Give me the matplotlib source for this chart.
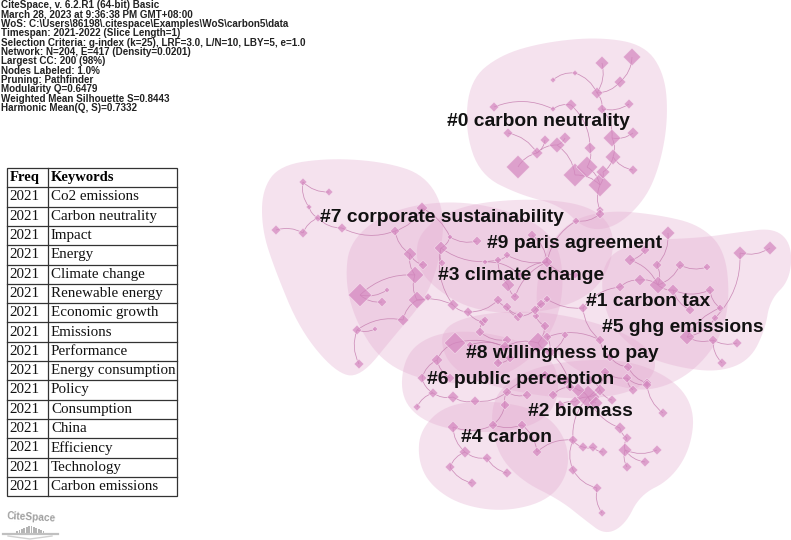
import numpy as np
import matplotlib.pyplot as plt
from matplotlib.path import Path
from matplotlib.patches import PathPatch, Rectangle

''' Chart data '''

header_lines = [
    'CiteSpace, v. 6.2.R1 (64-bit) Basic',
    'March 28, 2023 at 9:36:38 PM GMT+08:00',
    'WoS: C:\\Users\\86198\\.citespace\\Examples\\WoS\\carbon5\\data',
    'Timespan: 2021-2022 (Slice Length=1)',
    'Selection Criteria: g-index (k=25), LRF=3.0, L/N=10, LBY=5, e=1.0',
    'Network: N=204, E=417 (Density=0.0201)',
    'Largest CC: 200 (98%)',
    'Nodes Labeled: 1.0%',
    'Pruning: Pathfinder',
    'Modularity Q=0.6479',
    'Weighted Mean Silhouette S=0.8443',
    'Harmonic Mean(Q, S)=0.7332',
]

table_header = ['Freq', 'Keywords']
table_years = ['2021'] * 16
table_keywords = [
    'Co2 emissions', 'Carbon neutrality', 'Impact', 'Energy', 'Climate change',
    'Renewable energy', 'Economic growth', 'Emissions', 'Performance',
    'Energy consumption', 'Policy', 'Consumption', 'China', 'Efficiency',
    'Technology', 'Carbon emissions',
]

cluster_labels = [
    '#0 carbon neutrality', '#1 carbon tax', '#2 biomass', '#3 climate change',
    '#4 carbon', '#5 ghg emissions', '#6 public perception',
    '#7 corporate sustainability', '#8 willingness to pay', '#9 paris agreement',
]
label_x = [447, 586, 528, 438, 461, 602, 427, 320, 466, 487]
label_y = [121, 301, 412, 275, 437, 328, 380, 218, 353, 244]

# nodes per cluster: (x, y, size, parent index within cluster)
c0_nodes = [
    (600, 185, 12, -1), (575, 175, 12, 0), (587, 167, 11, 0), (603, 172, 7, 0),
    (613, 157, 8, 3), (633, 170, 5, 4), (590, 148, 6, 2), (612, 138, 9, 4),
    (633, 133, 6, 7), (602, 109, 5, 7), (597, 93, 6, 9), (620, 82, 6, 10),
    (632, 57, 9, 11), (602, 63, 7, 10), (575, 73, 3, 10), (553, 80, 3, 14),
    (571, 105, 6, 6), (553, 109, 3, 16), (494, 107, 5, 17), (557, 145, 8, 1),
    (537, 153, 6, 19), (518, 167, 12, 20), (508, 133, 5, 20), (629, 104, 5, 9),
    (600, 210, 4, 0), (565, 138, 6, 19), (545, 140, 5, 20),
]
c1_nodes = [
    (658, 285, 9, -1), (640, 280, 6, 0), (630, 260, 6, 0), (657, 265, 5, 0),
    (680, 265, 5, 0), (673, 290, 6, 0), (668, 233, 7, 3), (620, 287, 5, 1),
    (583, 308, 5, 7), (707, 267, 4, 4), (710, 290, 5, 5), (720, 308, 4, 10),
    (600, 340, 5, 8), (547, 337, 5, 12), (610, 357, 5, 12), (628, 367, 5, 14),
    (647, 383, 5, 15), (645, 250, 5, 2), (690, 310, 5, 5),
]
c2_nodes = [
    (588, 397, 12, -1), (578, 390, 7, 0), (596, 403, 7, 0), (570, 387, 5, 1),
    (553, 395, 5, 3), (605, 372, 5, 0), (627, 378, 5, 5), (633, 390, 5, 6),
    (647, 385, 5, 6), (663, 413, 5, 8), (620, 428, 6, 0), (627, 438, 5, 10),
    (625, 450, 7, 11), (645, 462, 5, 12), (657, 450, 5, 12), (627, 467, 5, 12),
    (603, 452, 5, 17), (593, 447, 5, 18), (583, 447, 5, 19), (573, 440, 5, 0),
    (573, 470, 5, 19), (597, 488, 5, 20), (602, 513, 4, 21), (537, 452, 5, 19),
    (522, 425, 5, 23), (565, 380, 6, 3), (575, 402, 6, 0), (600, 390, 6, 0),
    (590, 380, 5, 27), (560, 405, 5, 26), (612, 400, 5, 27), (545, 375, 5, 25),
]
c3_nodes = [
    (441, 248, 7, -1), (450, 237, 3, 0), (477, 241, 5, 1), (498, 260, 4, 0),
    (507, 255, 4, 3), (453, 305, 6, 0), (468, 312, 5, 5), (498, 300, 5, 6),
    (507, 307, 5, 7), (518, 317, 5, 8), (483, 322, 5, 6), (480, 332, 5, 10),
    (507, 340, 5, 11), (541, 304, 5, 9), (536, 316, 4, 13), (545, 326, 5, 14),
    (442, 263, 4, 0), (508, 285, 7, 3), (520, 315, 4, 8), (535, 310, 5, 13),
    (547, 299, 4, 13), (485, 320, 4, 10),
]
c4_nodes = [
    (453, 427, 6, -1), (493, 425, 5, 0), (465, 452, 6, 0), (487, 458, 5, 2),
    (450, 467, 5, 2), (507, 473, 5, 3), (472, 483, 5, 4),
]
c5_nodes = [
    (687, 337, 8, -1), (713, 340, 5, 0), (737, 343, 5, 1), (722, 363, 5, 1),
    (715, 318, 4, 0), (740, 253, 7, 4), (770, 248, 7, 5),
]
c6_nodes = [
    (455, 343, 11, -1), (437, 360, 6, 0), (422, 378, 5, 1), (433, 393, 5, 2),
    (453, 397, 6, 3), (475, 401, 5, 4), (417, 407, 4, 3), (507, 392, 5, 5),
    (527, 395, 5, 7), (505, 405, 5, 7), (450, 378, 5, 1),
]
c7_nodes = [
    (303, 182, 4, -1), (329, 192, 4, 0), (309, 207, 3, 0), (318, 218, 4, 2),
    (276, 230, 5, 5), (303, 233, 5, 3), (342, 228, 5, 3), (395, 231, 5, 6),
    (422, 208, 6, 7), (410, 254, 7, 7), (415, 275, 9, 9), (360, 295, 12, 10),
    (387, 290, 3, 11), (382, 302, 5, 11), (417, 300, 9, 10), (428, 297, 4, 14),
    (403, 320, 6, 14), (357, 330, 5, 16), (375, 329, 3, 17), (359, 364, 5, 17),
    (423, 265, 5, 9),
]
c8_nodes = [
    (538, 343, 11, -1), (550, 352, 6, 0), (505, 347, 6, 0), (498, 363, 5, 2),
    (565, 335, 4, 1), (470, 345, 4, 2), (510, 358, 5, 3),
]
c9_nodes = [
    (576, 221, 4, -1), (600, 214, 5, 0), (547, 262, 6, 0), (515, 297, 5, 2),
    (520, 275, 4, 2), (575, 275, 4, 2), (485, 262, 3, 4), (532, 235, 5, 2),
]

# links between clusters: ((cluster, node), (cluster, node))
cross_edges = [
    ((0, 24), (9, 1)), ((7, 8), (3, 1)), ((3, 15), (8, 0)), ((9, 2), (3, 4)),
    ((1, 13), (8, 1)), ((1, 16), (2, 8)), ((6, 0), (8, 2)), ((6, 9), (4, 1)),
    ((2, 24), (4, 1)), ((5, 0), (1, 11)), ((8, 1), (2, 3)), ((7, 14), (3, 5)),
    ((9, 3), (3, 17)), ((1, 8), (3, 20)), ((6, 7), (2, 31)),
]

# rough hull outline of each cluster area
cluster_outlines = [
    [(470, 80), (500, 55), (545, 42), (600, 37), (645, 45), (665, 75), (668, 120),
     (660, 165), (645, 200), (615, 228), (585, 230), (560, 205), (520, 195),
     (480, 175), (465, 130)],
    [(545, 250), (570, 220), (610, 210), (660, 215), (700, 225), (725, 250),
     (730, 300), (720, 340), (690, 375), (650, 392), (610, 385), (565, 365),
     (540, 330), (535, 290)],
    [(490, 400), (520, 372), (570, 360), (630, 360), (675, 380), (695, 410),
     (690, 450), (670, 480), (640, 495), (625, 525), (605, 535), (585, 520),
     (560, 500), (520, 480), (495, 450)],
    [(350, 240), (390, 210), (450, 200), (510, 210), (555, 235), (565, 280),
     (555, 330), (520, 370), (470, 385), (420, 380), (380, 360), (355, 320),
     (345, 280)],
    [(420, 430), (445, 405), (490, 400), (540, 410), (565, 435), (570, 470),
     (550, 500), (505, 512), (460, 505), (430, 485), (418, 460)],
    [(600, 260), (640, 240), (700, 238), (740, 232), (775, 228), (792, 245),
     (790, 280), (770, 300), (765, 330), (750, 360), (720, 372), (680, 368),
     (640, 355), (605, 320)],
    [(405, 355), (430, 335), (470, 330), (520, 340), (555, 360), (560, 395),
     (545, 420), (510, 432), (460, 432), (420, 420), (400, 395)],
    [(262, 190), (280, 165), (330, 158), (385, 162), (425, 175), (445, 210),
     (440, 260), (425, 300), (395, 335), (360, 378), (335, 372), (300, 330),
     (275, 270), (262, 230)],
    [(440, 330), (470, 315), (530, 310), (590, 320), (640, 340), (660, 365),
     (640, 390), (590, 400), (530, 395), (470, 380), (445, 360)],
    [(420, 230), (460, 205), (530, 198), (590, 205), (615, 230), (610, 270),
     (585, 300), (530, 315), (470, 310), (430, 285), (415, 260)],
]

logo_bars = [2, 3, 4, 5, 6, 7, 7, 6, 5, 4, 3, 2]

cluster_nodes = [c0_nodes, c1_nodes, c2_nodes, c3_nodes, c4_nodes,
                 c5_nodes, c6_nodes, c7_nodes, c8_nodes, c9_nodes]


''' Helpers '''

def smooth_outline(points, rounds=3):
    # corner cutting to round off the hull polygon
    pts = np.array(points, dtype=float)
    for _ in range(rounds):
        nxt = np.roll(pts, -1, axis=0)
        out = np.empty((2 * len(pts), 2))
        out[0::2] = 0.75 * pts + 0.25 * nxt
        out[1::2] = 0.25 * pts + 0.75 * nxt
        pts = out
    return pts


def draw_edge(ax, p0, p1, bend=0.22):
    p0 = np.array(p0, dtype=float)
    p1 = np.array(p1, dtype=float)
    mid = (p0 + p1) / 2
    d = p1 - p0
    ctrl = mid + bend * np.array([-d[1], d[0]])
    path = Path([p0, ctrl, p1], [Path.MOVETO, Path.CURVE3, Path.CURVE3])
    ax.add_patch(PathPatch(path, facecolor='none', edgecolor='#c67fb0',
                           lw=0.55, alpha=0.85, zorder=2))


''' Figure '''

fig = plt.figure(figsize=(7.91, 5.40), dpi=100)
ax = fig.add_axes([0, 0, 1, 1])
ax.set_xlim(0, 791)
ax.set_ylim(540, 0)
ax.axis('off')

# cluster areas
for outline in cluster_outlines:
    pts = smooth_outline(outline)
    ax.fill(pts[:, 0], pts[:, 1], facecolor='#e3aacf', alpha=0.34,
            edgecolor='none', zorder=1)

# links
for nodes in cluster_nodes:
    for x, y, s, parent in nodes:
        if parent >= 0:
            px, py = nodes[parent][0], nodes[parent][1]
            draw_edge(ax, (px, py), (x, y))
for (ca, na), (cb, nb) in cross_edges:
    a = cluster_nodes[ca][na]
    b = cluster_nodes[cb][nb]
    draw_edge(ax, (a[0], a[1]), (b[0], b[1]), bend=-0.18)

# nodes
for nodes in cluster_nodes:
    xs = [n[0] for n in nodes]
    ys = [n[1] for n in nodes]
    sizes = [n[2] ** 2 for n in nodes]
    ax.scatter(xs, ys, s=sizes, marker='D', color='#d487bf', alpha=0.72,
               edgecolors='#f7e4f0', linewidths=0.5, zorder=3)

# cluster labels
for text, x, y in zip(cluster_labels, label_x, label_y):
    ax.text(x, y, text, fontsize=13.9, fontweight='bold',
            family='Liberation Sans', color='#111111',
            ha='left', va='center', zorder=5)

# header block
for i, line in enumerate(header_lines):
    ax.text(1, 5.5 + i * 9.3, line, fontsize=7.1, fontweight='bold',
            family='Liberation Sans', color='#222222',
            ha='left', va='center', zorder=5)

# keyword table
table_left, table_mid, table_right = 7, 48, 177
table_top, row_h = 168, 19.3
n_rows = len(table_keywords) + 1
ax.add_patch(Rectangle((table_left, table_top), table_right - table_left,
                       row_h * n_rows, facecolor='white',
                       edgecolor='#333333', lw=0.9, zorder=4))
ax.plot([table_mid, table_mid], [table_top, table_top + row_h * n_rows],
        color='#333333', lw=0.9, zorder=4)
for r in range(1, n_rows):
    yy = table_top + r * row_h
    ax.plot([table_left, table_right], [yy, yy], color='#333333', lw=0.9, zorder=4)

ax.text(table_left + 3, table_top + row_h / 2, table_header[0], fontsize=10.5,
        fontweight='bold', family='Liberation Serif', ha='left', va='center', zorder=5)
ax.text(table_mid + 3, table_top + row_h / 2, table_header[1], fontsize=10.5,
        fontweight='bold', family='Liberation Serif', ha='left', va='center', zorder=5)
for r, (year, kw) in enumerate(zip(table_years, table_keywords)):
    yc = table_top + (r + 1.5) * row_h
    ax.text(table_left + 2, yc, year, fontsize=10.8, family='Liberation Serif',
            color='#111111', ha='left', va='center', zorder=5)
    ax.text(table_mid + 3, yc, kw, fontsize=10.8, family='Liberation Serif',
            color='#111111', ha='left', va='center', zorder=5)

# CiteSpace logo
ax.text(7, 517, 'CiteSpace', fontsize=7.3, fontweight='bold',
        family='Liberation Sans', color='#a0a0a0', ha='left', va='center',
        rotation=-3, zorder=5)
logo_x = np.arange(len(logo_bars)) * 2.4 + 17
ax.bar(logo_x, [-b for b in logo_bars], width=1.8, bottom=533,
       color='#b5b5b5', zorder=5)
ax.plot([3, 58], [533.5, 533.5], color='#c0c0c0', lw=1.6, zorder=5)
ax.plot([8, 30, 52], [536, 539, 536], color='#d0d0d0', lw=1.0, zorder=5)

plt.savefig('out.png', dpi=100)
